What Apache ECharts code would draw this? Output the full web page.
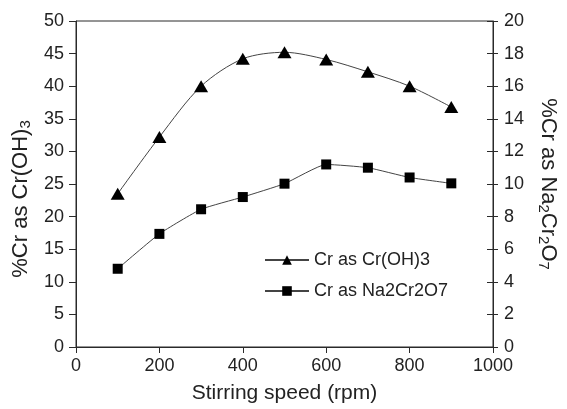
<!DOCTYPE html>
<html><head><meta charset="utf-8">
<script src="https://cdn.jsdelivr.net/npm/echarts@6/dist/echarts.min.js"></script>
<style>html,body{margin:0;padding:0;background:#fff}#c{width:567px;height:409px}</style>
</head><body><div id="c"></div>
<script>
const speeds = [100, 200, 300, 400, 500, 600, 700, 800, 900];
const crOH3 = [23.5, 32.2, 40.0, 44.2, 45.2, 44.1, 42.2, 40.0, 36.8];
const na2cr2o7 = [4.8, 6.94, 8.45, 9.2, 10.02, 11.2, 11.0, 10.4, 10.04];
const xTicks = [0, 200, 400, 600, 800, 1000];
const leftTicks = [0, 50, 5];
const rightTicks = [0, 20, 2];

const chart = echarts.init(document.getElementById('c'));
const font = 'Liberation Sans, Arial, sans-serif';
const axisCol = '#2a2a2a';
const txt = '#222';
const rich = {a: {fontFamily: font, fontSize: 22, color: txt}, s: {fontFamily: font, fontSize: 15, color: txt, padding: [9, 0, 0, 0]}};
chart.setOption({
  animation: false,
  backgroundColor: '#fff',
  grid: {left: 76, right: 68, top: 21, bottom: 57, show: true, borderColor: axisCol, borderWidth: 1},
  legend: {
    orient: 'vertical', left: 259, top: 246, itemGap: 13, itemWidth: 44, itemHeight: 12,
    textStyle: {fontFamily: font, fontSize: 18, color: txt, lineHeight: 18},
    data: ['Cr as Cr(OH)3', 'Cr as Na2Cr2O7']
  },
  xAxis: {
    type: 'value', min: xTicks[0], max: xTicks[xTicks.length - 1], interval: 200,
    name: 'Stirring speed (rpm)', nameLocation: 'middle', nameGap: 36,
    nameTextStyle: {fontFamily: font, fontSize: 21, color: txt},
    axisLine: {lineStyle: {color: axisCol}}, axisTick: {length: 6, lineStyle: {color: axisCol}},
    axisLabel: {fontFamily: font, fontSize: 18, color: txt, margin: 10, formatter: v => String(v)},
    splitLine: {show: false}
  },
  yAxis: [{
    type: 'value', min: leftTicks[0], max: leftTicks[1], interval: leftTicks[2], position: 'left',
    name: '{a|%Cr as Cr(OH)}{s|3}', nameLocation: 'middle', nameGap: 41, nameRotate: 90,
    nameTextStyle: {fontFamily: font, fontSize: 22, color: txt, rich: rich, padding: [0, 30, 0, 0]},
    axisLine: {show: true, lineStyle: {color: axisCol}}, axisTick: {show: true, length: 7, lineStyle: {color: axisCol}},
    axisLabel: {fontFamily: font, fontSize: 18, color: txt, margin: 12},
    splitLine: {show: false}
  }, {
    type: 'value', min: rightTicks[0], max: rightTicks[1], interval: rightTicks[2], position: 'right',
    name: '{a|%Cr as Na}{s|2}{a|Cr}{s|2}{a|O}{s|7}', nameLocation: 'middle', nameGap: 43, nameRotate: -90,
    nameTextStyle: {fontFamily: font, fontSize: 22, color: txt, rich: rich},
    axisLine: {show: true, lineStyle: {color: axisCol}}, axisTick: {show: true, length: 5, lineStyle: {color: axisCol}},
    axisLabel: {fontFamily: font, fontSize: 18, color: txt, margin: 11},
    splitLine: {show: false}
  }, {
    type: 'value', min: rightTicks[0], max: rightTicks[1], interval: rightTicks[2], position: 'right',
    axisLine: {show: false}, axisTick: {show: true, inside: true, length: 6, lineStyle: {color: axisCol}},
    axisLabel: {show: false}, splitLine: {show: false}
  }],
  series: [{
    name: 'Cr as Cr(OH)3', type: 'line', yAxisIndex: 0, smooth: 0.3,
    data: speeds.map((x, i) => [x, crOH3[i]]),
    symbol: 'triangle', symbolSize: [14, 12],
    itemStyle: {color: '#000'}, lineStyle: {color: '#444', width: 1}
  }, {
    name: 'Cr as Na2Cr2O7', type: 'line', yAxisIndex: 1, smooth: 0.15,
    data: speeds.map((x, i) => [x, na2cr2o7[i]]),
    symbol: 'rect', symbolSize: 10,
    itemStyle: {color: '#000'}, lineStyle: {color: '#444', width: 1}
  }]
});
</script></body></html>
